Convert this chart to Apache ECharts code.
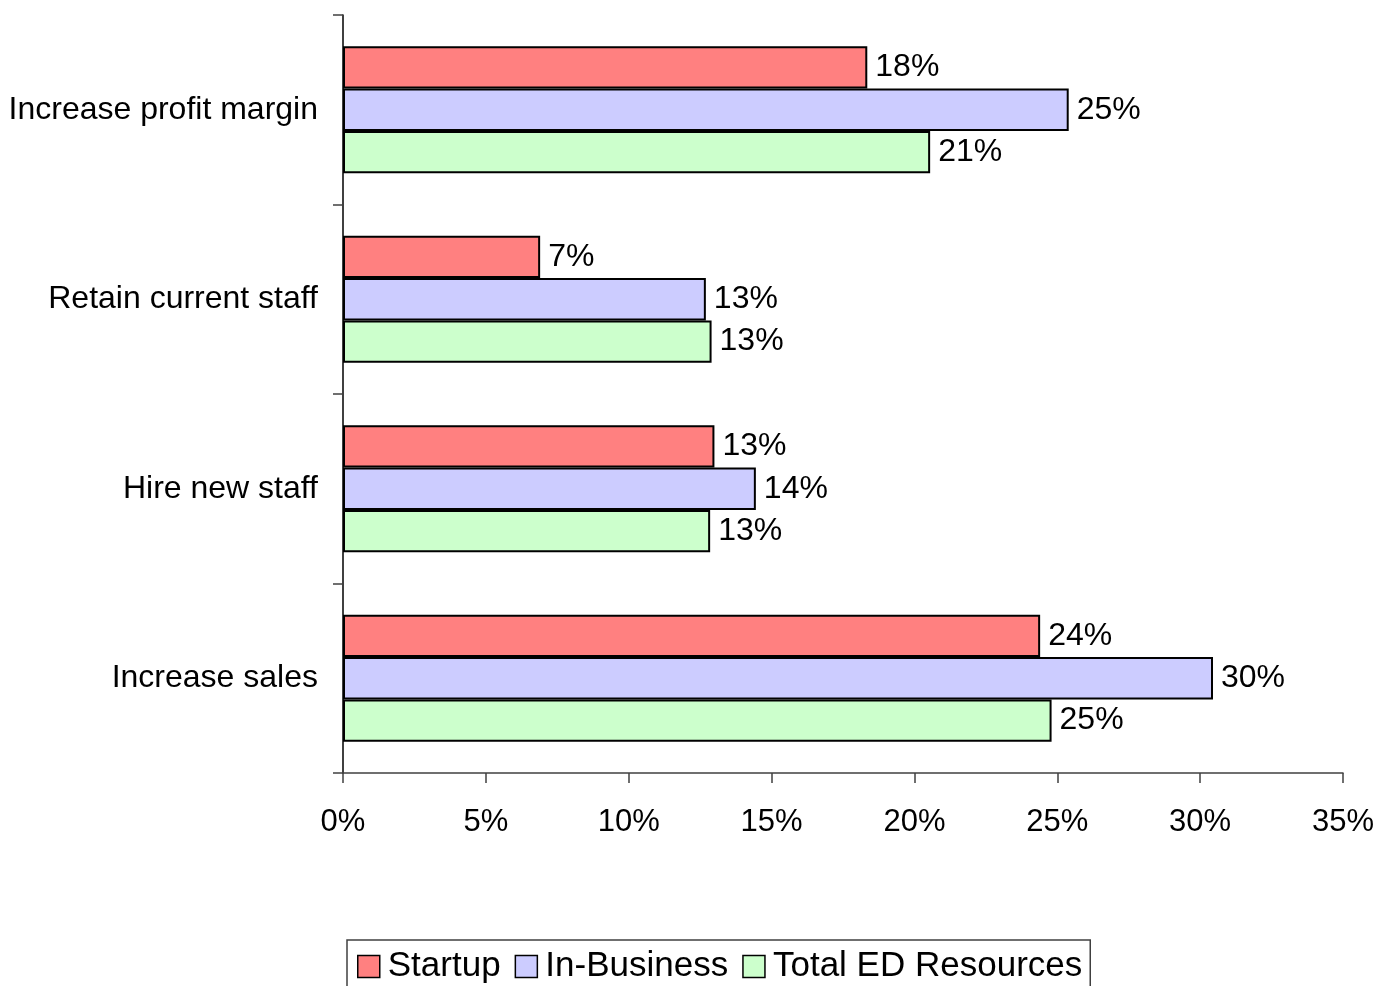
<!DOCTYPE html>
<html>
<head>
<meta charset="utf-8">
<title>Business goals by client group</title>
<script src="https://cdn.jsdelivr.net/npm/echarts@6/dist/echarts.min.js"></script>
<style>
  html, body { margin: 0; padding: 0; background: #ffffff; }
  #chart { width: 1386px; height: 986px; }
</style>
</head>
<body>
<div id="chart"></div>
<script>
// Goals, listed top to bottom
const categories = ['Increase profit margin', 'Retain current staff', 'Hire new staff', 'Increase sales'];

// Share of respondents (%) per goal
const startup = [18.35, 6.9, 13.0, 24.4];
const inBusiness = [25.4, 12.7, 14.45, 30.45];
const totalED = [20.55, 12.9, 12.85, 24.8];

const seriesNames = ['Startup', 'In-Business', 'Total ED Resources'];
const seriesColors = ['#FF8080', '#CCCCFF', '#CCFFCC'];

const FONT = '"Liberation Sans", Arial, sans-serif';

function barSeries(name, data, color) {
  return {
    name: name,
    type: 'bar',
    data: data,
    barGap: '0%',
    barCategoryGap: '33%',
    itemStyle: { color: color, borderColor: '#000000', borderWidth: 2 },
    label: {
      show: true,
      position: 'right',
      distance: 8,
      color: '#000000',
      fontFamily: FONT,
      fontSize: 32,
      formatter: p => Math.round(p.value) + '%'
    },
    emphasis: { disabled: true }
  };
}

const chart = echarts.init(document.getElementById('chart'), null, { renderer: 'canvas' });
chart.setOption({
  backgroundColor: '#ffffff',
  animation: false,
  grid: { left: 343, right: 43, top: 15, bottom: 213, containLabel: false },
  xAxis: {
    type: 'value',
    min: 0,
    max: 35,
    interval: 5,
    axisLine: { show: true, lineStyle: { color: '#404040', width: 1.5 } },
    axisTick: { show: true, length: 10, lineStyle: { color: '#404040', width: 1.5 } },
    splitLine: { show: false },
    axisLabel: {
      formatter: '{value}%',
      color: '#000000',
      fontFamily: FONT,
      fontSize: 31,
      margin: 34
    }
  },
  yAxis: {
    type: 'category',
    data: categories,
    inverse: true,
    axisLine: { show: true, lineStyle: { color: '#000000', width: 1.5 } },
    axisTick: { show: true, length: 10, alignWithLabel: false, lineStyle: { color: '#404040', width: 1.5 } },
    axisLabel: {
      color: '#000000',
      fontFamily: FONT,
      fontSize: 32,
      margin: 25
    }
  },
  legend: {
    data: seriesNames,
    left: 347,
    top: 940,
    orient: 'horizontal',
    padding: [9, 8, 9, 10],
    itemGap: 14,
    itemWidth: 22,
    itemHeight: 22,
    icon: 'rect',
    borderColor: '#404040',
    borderWidth: 1.5,
    selectedMode: false,
    itemStyle: { borderColor: '#000000', borderWidth: 1.5 },
    textStyle: {
      color: '#000000',
      fontFamily: FONT,
      fontSize: 35,
      padding: [0, 0, 0, 3]
    }
  },
  series: [
    barSeries(seriesNames[0], startup, seriesColors[0]),
    barSeries(seriesNames[1], inBusiness, seriesColors[1]),
    barSeries(seriesNames[2], totalED, seriesColors[2])
  ]
});
</script>
</body>
</html>
